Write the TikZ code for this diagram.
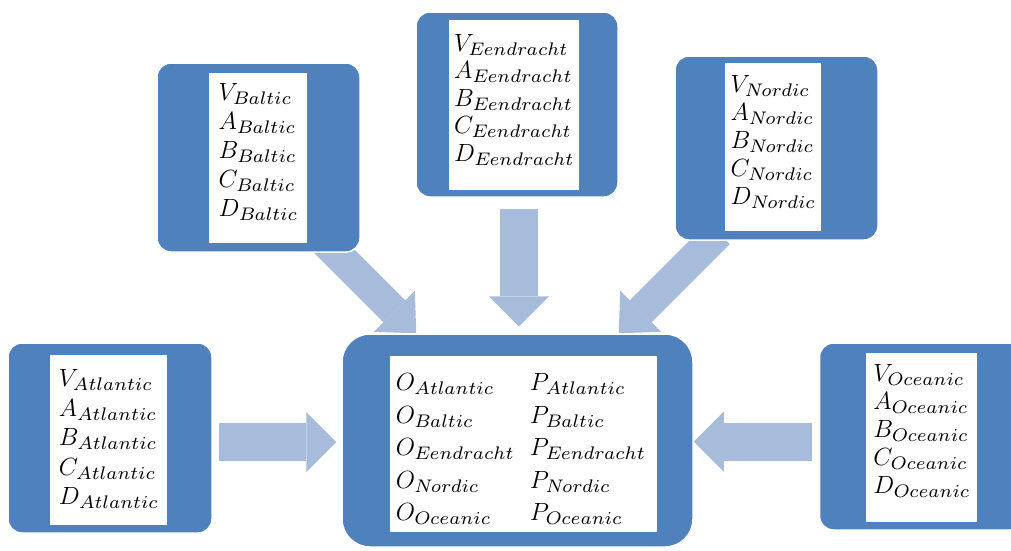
\documentclass[tikz,border=0pt]{standalone}
\usetikzlibrary{arrows.meta,calc}
\pgfdeclarelayer{back}
\pgfdeclarelayer{bg}
\pgfsetlayers{back,bg,main}
\definecolor{boxblue}{RGB}{79,129,189}
\definecolor{arrowblue}{RGB}{167,187,219}
\DeclareFontFamily{OML}{cmseven}{\skewchar\font=127}
\DeclareFontShape{OML}{cmseven}{m}{it}{<->cmmi7}{}
\newcommand\vsub[2]{$#1_{\mbox{\fontsize{18.2pt}{20pt}\usefont{OML}{cmseven}{m}{it}#2}}$}
\newcommand\fiverows[1]{\begin{tabular}{@{}l@{}}\vsub{V}{#1}\\\vsub{A}{#1}\\\vsub{B}{#1}\\\vsub{C}{#1}\\\vsub{D}{#1}\end{tabular}}
\begin{document}
\begin{tikzpicture}[x=1pt,y=-1pt,
  bluebox/.style={draw=white, line width=1.5pt, fill=boxblue, rounded corners=14pt, inner sep=0pt},
  whitebox/.style={fill=white, inner sep=0pt},
  txt/.style={anchor=north, inner sep=0pt, font=\fontsize{26pt}{29pt}\selectfont},
  bigarrow/.style={arrowblue, line width=38pt, -{Triangle[length=30pt,width=60pt,line width=0pt]}},
  diagarrow/.style={arrowblue, line width=31pt, -{Triangle[length=31pt,width=58pt,line width=0pt]}}]
\clip (0,0) rectangle (1011,550);
\begin{pgfonlayer}{back}
\fill[white] (0,0) rectangle (1011,550);
\end{pgfonlayer}
% boxes
\node[bluebox, minimum width=203pt, minimum height=189pt] (balticbg) at (258.5,157.5) {};
\node[whitebox, minimum width=98pt, minimum height=170pt] (baltic) at (258,158) {};
\node[txt] (baltictxt) at ($(baltic.north)+(0,7.5)$) {\fiverows{Baltic}};
\node[bluebox, minimum width=202pt, minimum height=185pt] (eendrachtbg) at (517,104.5) {};
\node[whitebox, minimum width=130pt, minimum height=170pt] (eendracht) at (514,105) {};
\node[txt, font=\fontsize{26pt}{27.5pt}\selectfont] (eendrachttxt) at ($(eendracht.north)+(0,12)$) {\fiverows{Eendracht}};
\node[bluebox, minimum width=203pt, minimum height=184pt] (nordicbg) at (776.5,148) {};
\node[whitebox, minimum width=96pt, minimum height=168pt] (nordic) at (773,147) {};
\node[txt, font=\fontsize{26pt}{28pt}\selectfont] (nordictxt) at ($(nordic.north)+(0,10)$) {\fiverows{Nordic}};
\node[bluebox, minimum width=204pt, minimum height=190pt] (atlanticbg) at (110,438) {};
\node[whitebox, minimum width=117pt, minimum height=170pt] (atlantic) at (108.5,440) {};
\node[txt, font=\fontsize{26pt}{29.5pt}\selectfont] (atlantictxt) at ($(atlantic.north)+(0,11)$) {\fiverows{Atlantic}};
\node[bluebox, minimum width=204pt, minimum height=187pt] (oceanicbg) at (921.5,436.5) {};
\node[whitebox, minimum width=111pt, minimum height=169pt] (oceanic) at (921.5,437.5) {};
\node[txt, font=\fontsize{26pt}{28pt}\selectfont] (oceanictxt) at ($(oceanic.north)+(0,9)$) {\fiverows{Oceanic}};
\node[bluebox, rounded corners=28pt, minimum width=351pt, minimum height=213pt] (centralbg) at (517.5,440.5) {};
\node[whitebox, minimum width=267pt, minimum height=176pt] (central) at (523.5,444) {};
\node[txt, font=\fontsize{26pt}{32.5pt}\selectfont] (centraltxt) at ($(central.north)+(-3,12)$)
  {\begin{tabular}{@{}l@{\hspace{16pt}}l@{}}
   \vsub{O}{Atlantic} & \vsub{P}{Atlantic}\\
   \vsub{O}{Baltic} & \vsub{P}{Baltic}\\
   \vsub{O}{Eendracht} & \vsub{P}{Eendracht}\\
   \vsub{O}{Nordic} & \vsub{P}{Nordic}\\
   \vsub{O}{Oceanic} & \vsub{P}{Oceanic}
   \end{tabular}};
% arrows
\coordinate (atlout) at ($(atlanticbg.east)+(0,4)$);
\coordinate (ocout) at ($(oceanicbg.west)+(0,5)$);
\coordinate (eeout) at ($(eendrachtbg.south)+(2,0)$);
\coordinate (baltin) at ($(centralbg.north west)+(75,0)$);
\coordinate (baltout) at ($(baltin)+(-100,-100)$);
\coordinate (nordin) at ($(centralbg.north east)+(-75,0)$);
\coordinate (nordout) at ($(nordin)+(100,-100)$);
\begin{pgfonlayer}{bg}
\draw[bigarrow, shorten <=6pt, shorten >=5pt] (atlout) -- (atlout -| centralbg.west);
\draw[bigarrow, shorten <=7pt, shorten >=0pt] (ocout) -- (ocout -| centralbg.east);
\draw[bigarrow, shorten <=11pt, shorten >=7pt] (eeout) -- (eeout |- centralbg.north);
\draw[diagarrow] (baltout) -- (baltin);
\draw[diagarrow] (nordout) -- (nordin);
\end{pgfonlayer}
\end{tikzpicture}
\end{document}
